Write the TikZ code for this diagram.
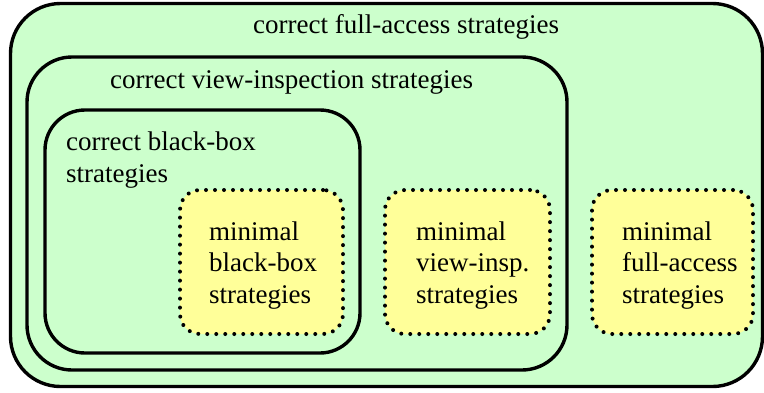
\documentclass[tikz,border=0pt]{standalone}
\usepackage{fontspec}
\setmainfont{Liberation Serif}
\begin{document}
\begin{tikzpicture}[x=1pt, y=-1pt,
  setbox/.style={draw=black, fill=setgreen, line width=3.4pt,
    rounded corners=#1, inner sep=0pt, outer sep=0pt},
  minbox/.style={draw=black, fill=minyellow, line width=4pt, line cap=round,
    dash pattern=on 0pt off 9pt, rounded corners=20pt, inner sep=0pt, outer sep=0pt},
  lbl/.style={anchor=base west, inner sep=0pt, align=left,
    font=\fontsize{27}{31.5}\selectfont}]
\definecolor{setgreen}{HTML}{CCFFCC}
\definecolor{minyellow}{HTML}{FFFF99}
\useasboundingbox (0,0) rectangle (764,392);

% nested sets of correct strategies
\node[setbox=50pt, minimum width=752pt, minimum height=383pt] (full) at (386.5,195) {};
\node[setbox=45pt, minimum width=540pt, minimum height=313pt] (view) at (297,213.5) {};
\node[setbox=40pt, minimum width=315pt, minimum height=243pt] (black) at (202.5,231.5) {};

% minimal strategies
\node[minbox, minimum width=163pt, minimum height=144pt] (minblack) at (261.5,262) {};
\node[minbox, minimum width=165pt, minimum height=144pt] (minview) at (467.5,262) {};
\node[minbox, minimum width=161pt, minimum height=144pt] (minfull) at (672.5,262) {};

% labels (anchored at the baseline of their last line)
\node[lbl] (fulltext) at (253,33) {correct full-access strategies};
\node[lbl] (viewtext) at (110,88) {correct view-inspection strategies};
\node[lbl] (blacktext) at (66,182) {correct black-box\\strategies};
\node[lbl] (minblacktext) at (209,303) {minimal\\black-box\\strategies};
\node[lbl] (minviewtext) at (416,303) {minimal\\view-insp.\\strategies};
\node[lbl] (minfulltext) at (622,303) {minimal\\full-access\\strategies};
\end{tikzpicture}
\end{document}
